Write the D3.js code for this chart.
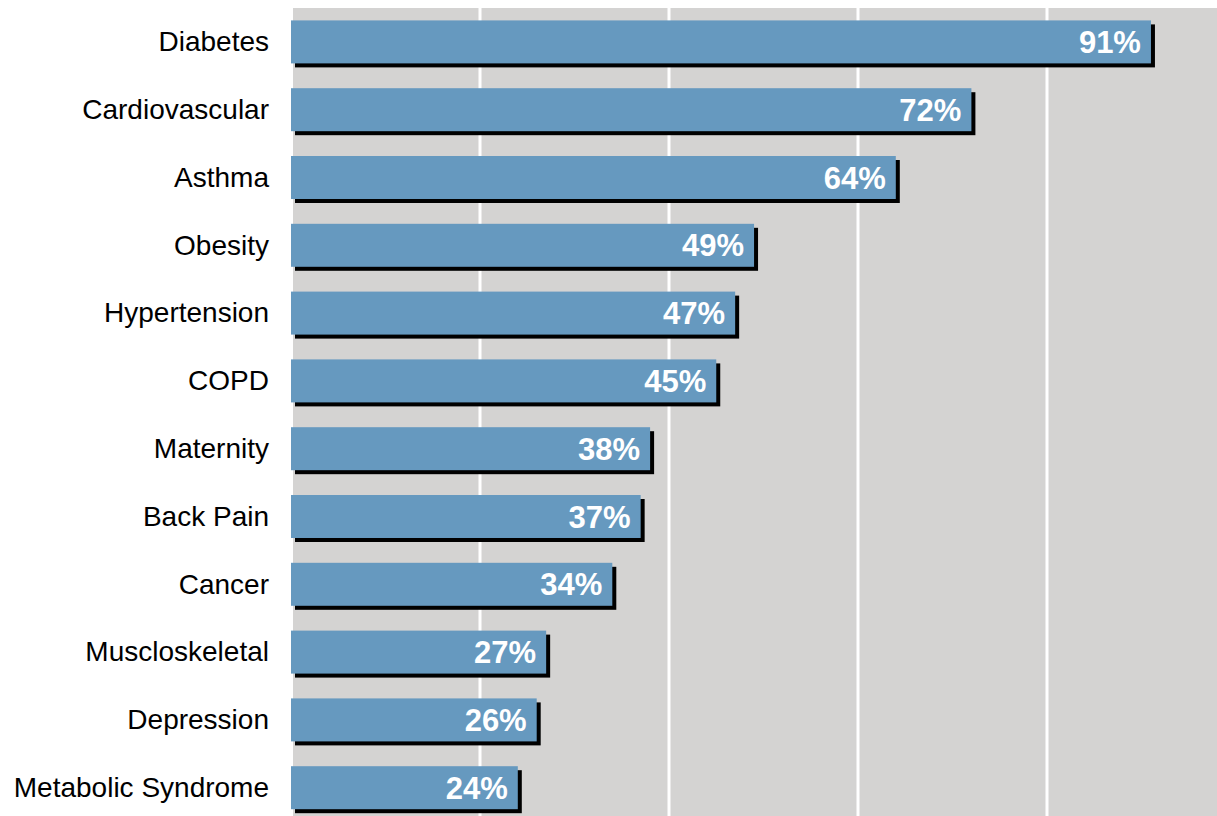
<!DOCTYPE html>
<html><head><meta charset="utf-8">
<script src="https://cdn.jsdelivr.net/npm/d3@7"></script>
<style>html,body{margin:0;padding:0;background:#fff;}svg{display:block;}</style>
</head><body>
<svg id="chart" width="1217" height="816"></svg>
<script>
const categories = ["Diabetes","Cardiovascular","Asthma","Obesity","Hypertension","COPD","Maternity","Back Pain","Cancer","Muscloskeletal","Depression","Metabolic Syndrome"];
const values = [91,72,64,49,47,45,38,37,34,27,26,24];
const ticks = [0,20,40,60,80];

const svg = d3.select("#chart");
const x0 = 291, xPer100 = 945;
const x = d3.scaleLinear().domain([0,100]).range([x0, x0 + xPer100]);
const y = d3.scaleBand().domain(categories).range([8, 8 + 67.8*12]).paddingInner(0.366).paddingOuter(0.183);

svg.append("rect").attr("x",293).attr("y",8).attr("width",1217-293).attr("height",816-8).attr("fill","#d4d3d2");

svg.selectAll("line.grid").data(ticks.slice(1)).enter().append("line")
  .attr("class","grid")
  .attr("x1",d=>x(d)).attr("x2",d=>x(d)).attr("y1",8).attr("y2",816)
  .attr("stroke","#fff").attr("stroke-width",3);

const g = svg.selectAll("g.bar").data(categories).enter().append("g").attr("class","bar");
g.append("rect").attr("x",d=>x(0)+4).attr("y",d=>y(d)+4)
  .attr("width",(d,i)=>x(values[i])-x(0)).attr("height",y.bandwidth()).attr("fill","#000");
g.append("rect").attr("x",x(0)).attr("y",d=>y(d))
  .attr("width",(d,i)=>x(values[i])-x(0)).attr("height",y.bandwidth()).attr("fill","#6699bf");
g.append("text").attr("x",(d,i)=>x(values[i])-10).attr("y",d=>y(d)+y.bandwidth()/2)
  .attr("dy","0.36em").attr("text-anchor","end")
  .attr("font-family","Liberation Sans, Arial, sans-serif").attr("font-weight","bold").attr("font-size",31)
  .attr("fill","#fff").text((d,i)=>values[i]+"%");
g.append("text").attr("x",269).attr("y",d=>y(d)+y.bandwidth()/2)
  .attr("dy","0.33em").attr("text-anchor","end")
  .attr("font-family","Liberation Sans, Arial, sans-serif").attr("font-size",28)
  .attr("fill","#000").text(d=>d);
</script>
</body></html>
